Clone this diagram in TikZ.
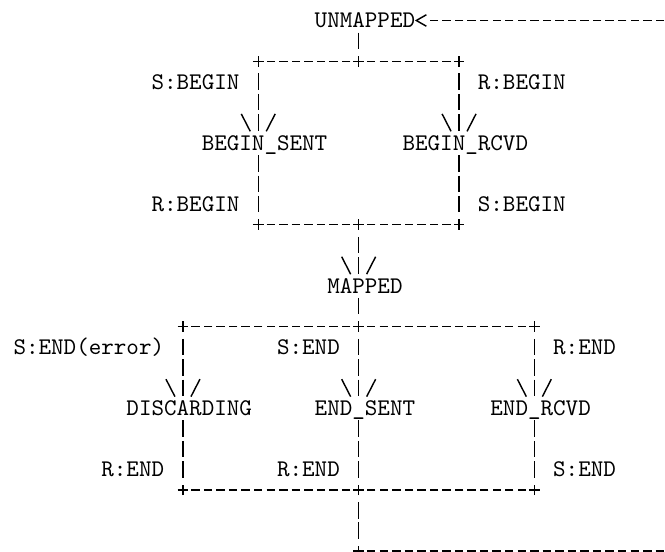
\documentclass[tikz,border=0pt]{standalone}
\usepackage{fontspec}
% the \|/ head under a pipe
\pgfdeclarearrow{
  name = vbars,
  setup code = {
    \pgfarrowssettipend{0pt}
    \pgfarrowssetlineend{0pt}
    \pgfarrowssetbackend{-8pt}
  },
  drawing code = {
    \pgfsetdash{}{0pt}
    \pgfpathmoveto{\pgfqpoint{-7.9pt}{7.1pt}}
    \pgfpathlineto{\pgfqpoint{-0.6pt}{3.35pt}}
    \pgfpathmoveto{\pgfqpoint{-7.9pt}{-7.1pt}}
    \pgfpathlineto{\pgfqpoint{-0.6pt}{-3.35pt}}
    \pgfusepathqstroke
  }
}
% the < head, one cell wide
\pgfdeclarearrow{
  name = lessthan,
  setup code = {
    \pgfarrowssettipend{0pt}
    \pgfarrowssetlineend{-5.25pt}
    \pgfarrowssetbackend{-5.25pt}
  },
  drawing code = {
    \pgfsetdash{}{0pt}
    \pgfpathmoveto{\pgfqpoint{-4.7pt}{2.4pt}}
    \pgfpathlineto{\pgfqpoint{-0.5pt}{0pt}}
    \pgfpathlineto{\pgfqpoint{-4.7pt}{-2.4pt}}
    \pgfusepathqstroke
  }
}
\begin{document}
\begin{tikzpicture}[x=5.25pt, y=-8.538pt,
    statename/.style={font=\ttfamily, inner sep=0pt, outer sep=0pt, minimum height=8.538pt, text height=7.3pt, text depth=1.19pt},
    lbl/.style={statename, anchor=west},
    junc/.style={inner sep=0pt, outer sep=0pt, minimum width=5.25pt, minimum height=8.538pt},
    pipe/.style={line width=0.6pt, dash pattern=on 6.9pt off 1.638pt, dash phase=7.719pt},
    hbar/.style={line width=0.6pt, dash pattern=on 3.52pt off 1.73pt, dash phase=4.385pt},
    into/.style={pipe, -vbars},
    plusmark/.style={line width=0.6pt}]
    \useasboundingbox (-1.578,-1.0044) rectangle (51.41,26.04);

    % states
    \node [statename] (unmapped) at (27.5,0) {UNMAPPED};
    \node [statename] (beginsent) at (19.5,6) {BEGIN\_SENT};
    \node [statename] (beginrcvd) at (35.5,6) {BEGIN\_RCVD};
    \node [statename] (mapped) at (27.5,13) {MAPPED};
    \node [statename] (discarding) at (13.5,19) {DISCARDING};
    \node [statename] (endsent) at (27.5,19) {END\_SENT};
    \node [statename] (endrcvd) at (41.5,19) {END\_RCVD};

    % events
    \node [lbl] (sbegin1) at (10.5,3) {S:BEGIN};
    \node [lbl] (rbegin1) at (36.5,3) {R:BEGIN};
    \node [lbl] (rbegin2) at (10.5,9) {R:BEGIN};
    \node [lbl] (sbegin2) at (36.5,9) {S:BEGIN};
    \node [lbl] (senderr) at (-0.5,16) {S:END(error)};
    \node [lbl] (send1) at (20.5,16) {S:END};
    \node [lbl] (rend1) at (42.5,16) {R:END};
    \node [lbl] (rend2) at (6.5,22) {R:END};
    \node [lbl] (rend3) at (20.5,22) {R:END};
    \node [lbl] (send2) at (42.5,22) {S:END};

    % the + corners
    \foreach \n/\c/\r in {js1/19/2, js0/27/2, js2/35/2, jj1/19/10, jj0/27/10, jj2/35/10,
                          je1/13/15, je0/27/15, je2/41/15, jf1/13/23, jf0/27/23, jf2/41/23, jr/27/26}
      \node [junc] (\n) at (\c,\r) {};
    \foreach \n in {js1,js0,js2,jj1,jj0,jj2,je1,je0,je2,jf1,jf0,jf2,jr}
      \draw [plusmark] (\n.center) ++(-2.2pt,0) -- ++(4.4pt,0) (\n.center) ++(0,-2.2pt) -- ++(0,4.4pt);

    \coordinate (ret0) at (51.5,0);
    \coordinate (ret1) at (51.5,26);

    % begin
    \draw [pipe] (js0 |- unmapped.south) -- (js0);
    \draw [hbar] (js0) -- (js1);
    \draw [hbar] (js0) -- (js2);
    \draw [into] (js1) -- (js1 |- beginsent.north);
    \draw [into] (js2) -- (js2 |- beginrcvd.north);
    \draw [pipe] (jj1 |- beginsent.south) -- (jj1);
    \draw [pipe] (jj2 |- beginrcvd.south) -- (jj2);
    \draw [hbar] (jj1) -- (jj0);
    \draw [hbar] (jj2) -- (jj0);
    \draw [into] (jj0) -- (jj0 |- mapped.north);

    % end
    \draw [pipe] (je0 |- mapped.south) -- (je0);
    \draw [hbar] (je0) -- (je1);
    \draw [hbar] (je0) -- (je2);
    \draw [into] (je1) -- (je1 |- discarding.north);
    \draw [into] (je0) -- (je0 |- endsent.north);
    \draw [into] (je2) -- (je2 |- endrcvd.north);
    \draw [pipe] (jf1 |- discarding.south) -- (jf1);
    \draw [pipe] (jf0 |- endsent.south) -- (jf0);
    \draw [pipe] (jf2 |- endrcvd.south) -- (jf2);
    \draw [hbar] (jf1) -- (jf0);
    \draw [hbar] (jf2) -- (jf0);

    % back to unmapped
    \draw [pipe] (jf0) -- (jr);
    \draw [hbar] (jr) -- (ret1);
    \draw [hbar, -lessthan] (ret0) -- (unmapped);
  \end{tikzpicture}
\end{document}
